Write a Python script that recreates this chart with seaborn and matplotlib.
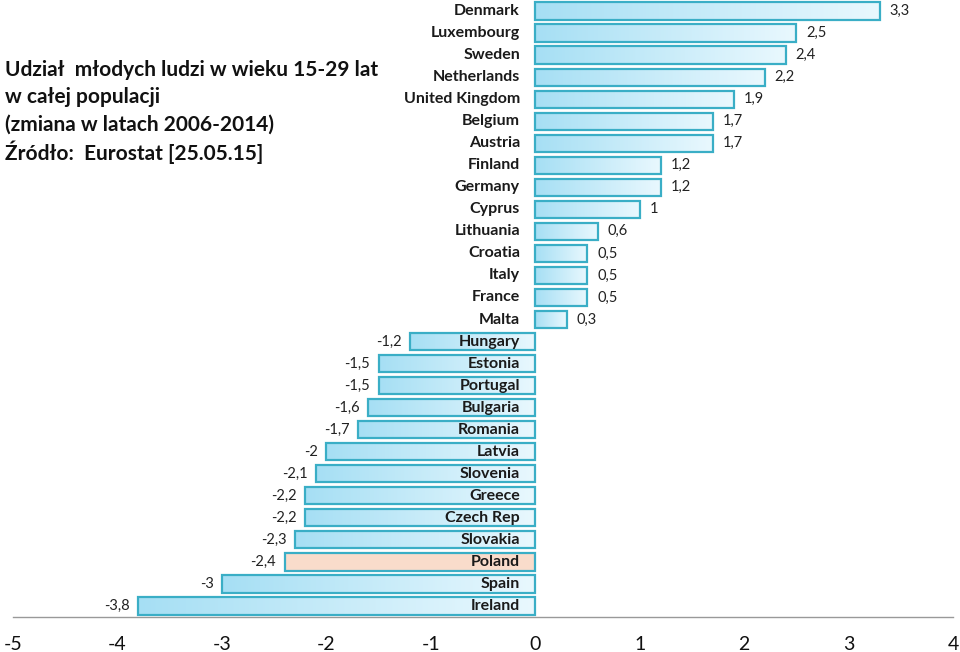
import matplotlib
matplotlib.use("Agg")
import matplotlib.pyplot as plt
import seaborn as sns
import numpy as np
import pandas as pd

countries = ["Denmark", "Luxembourg", "Sweden", "Netherlands", "United Kingdom",
             "Belgium", "Austria", "Finland", "Germany", "Cyprus", "Lithuania",
             "Croatia", "Italy", "France", "Malta", "Hungary", "Estonia",
             "Portugal", "Bulgaria", "Romania", "Latvia", "Slovenia", "Greece",
             "Czech Rep", "Slovakia", "Poland", "Spain", "Ireland"]
values = [3.3, 2.5, 2.4, 2.2, 1.9, 1.7, 1.7, 1.2, 1.2, 1.0, 0.6, 0.5, 0.5, 0.5,
          0.3, -1.2, -1.5, -1.5, -1.6, -1.7, -2.0, -2.1, -2.2, -2.2, -2.3, -2.4,
          -3.0, -3.8]
value_labels = ["3,3", "2,5", "2,4", "2,2", "1,9", "1,7", "1,7", "1,2", "1,2", "1",
                "0,6", "0,5", "0,5", "0,5", "0,3", "-1,2", "-1,5", "-1,5", "-1,6",
                "-1,7", "-2", "-2,1", "-2,2", "-2,2", "-2,3", "-2,4", "-3", "-3,8"]
highlight = "Poland"
xticks = [-5, -4, -3, -2, -1, 0, 1, 2, 3, 4]
title_lines = ["Udział  młodych ludzi w wieku 15-29 lat",
               "w całej populacji",
               "(zmiana w latach 2006-2014)",
               "Źródło:  Eurostat [25.05.15]"]

df = pd.DataFrame({"country": countries, "value": values})

sns.set_theme(style="white")
plt.rcParams["font.family"] = ["Lato", "DejaVu Sans"]

fig = plt.figure(figsize=(9.6, 6.52), dpi=100)
ax = fig.add_axes([13 / 960, 35 / 652, 940 / 960, 617 / 652])

edge = "#3aaec6"
sns.barplot(data=df, y="country", x="value", orient="h", ax=ax,
            color="#bfe9f8", edgecolor=edge, linewidth=1.6, width=0.78)

grad_cmap = matplotlib.colors.LinearSegmentedColormap.from_list(
    "g", ["#a6dff4", "#e9f8fe"])
grad = np.linspace(0, 1, 256).reshape(1, -1)

for patch, name in zip(ax.patches, countries):
    x0, y0 = patch.get_x(), patch.get_y()
    w, h = patch.get_width(), patch.get_height()
    xl, xr = min(x0, x0 + w), max(x0, x0 + w)
    if name == highlight:
        patch.set_facecolor("#f9dccb")
        continue
    patch.set_facecolor("none")
    im = ax.imshow(grad, cmap=grad_cmap, aspect="auto",
                   extent=[xl, xr, y0 + h, y0], zorder=0.9,
                   interpolation="bicubic")
    im.set_clip_path(patch)

for i, (v, lab, name) in enumerate(zip(values, value_labels, countries)):
    if v >= 0:
        ax.annotate(lab, (v, i), xytext=(7, 0), textcoords="offset points",
                    ha="left", va="center", fontsize=10.5, color="#222222")
    else:
        ax.annotate(lab, (v, i), xytext=(-6, 0), textcoords="offset points",
                    ha="right", va="center", fontsize=10.5, color="#222222")
    ax.annotate(name, (0, i), xytext=(-11, 0), textcoords="offset points",
                ha="right", va="center", fontsize=11.5, fontweight="bold",
                color="#1a1a1a", zorder=5)

ax.set_xlim(-5, 4)
ax.set_ylim(27.5, -0.5)
ax.set_xticks(xticks)
ax.set_xticklabels([str(t) for t in xticks], fontsize=14, color="#111111")
ax.set_yticks([])
ax.set_xlabel("")
ax.set_ylabel("")
for s in ["top", "left", "right"]:
    ax.spines[s].set_visible(False)
ax.spines["bottom"].set_color("#999999")
ax.spines["bottom"].set_linewidth(1)
ax.tick_params(axis="x", length=0, pad=14)

for k, line in enumerate(title_lines):
    fig.text(5 / 960, 1 - (70 + 27.3 * k) / 652, line, fontsize=15,
             fontweight="bold", ha="left", va="center", color="#111111")

fig.savefig("out.png", dpi=100)
